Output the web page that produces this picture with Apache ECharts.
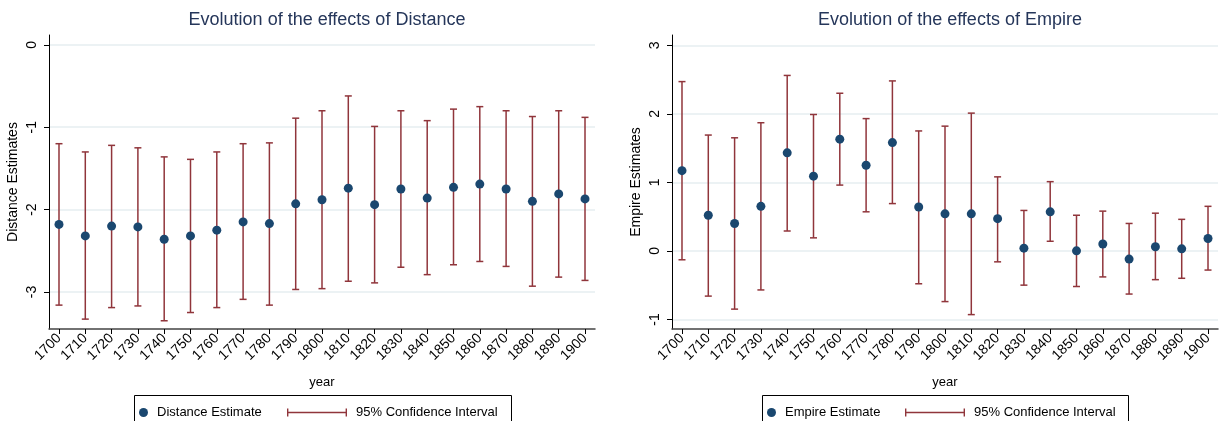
<!DOCTYPE html>
<html>
<head>
<meta charset="utf-8">
<script src="https://cdn.jsdelivr.net/npm/echarts@6/dist/echarts.min.js"></script>
<style>
html,body{margin:0;padding:0;background:#fff;}
#chart{width:1225px;height:421px;}
</style>
</head>
<body>
<div id="chart"></div>
<script>
var years = [1700,1710,1720,1730,1740,1750,1760,1770,1780,1790,1800,1810,1820,1830,1840,1850,1860,1870,1880,1890,1900];
var distTicks = [0,-1,-2,-3];
var empTicks = [3,2,1,0,-1];

var distEst = [-2.18,-2.32,-2.20,-2.21,-2.36,-2.32,-2.25,-2.15,-2.17,-1.93,-1.88,-1.74,-1.94,-1.75,-1.86,-1.73,-1.69,-1.75,-1.90,-1.81,-1.87];
var distLo  = [-3.16,-3.33,-3.19,-3.17,-3.35,-3.25,-3.19,-3.09,-3.16,-2.97,-2.96,-2.87,-2.89,-2.70,-2.79,-2.67,-2.63,-2.69,-2.93,-2.82,-2.86];
var distHi  = [-1.20,-1.30,-1.22,-1.25,-1.36,-1.39,-1.30,-1.20,-1.19,-0.89,-0.80,-0.62,-0.99,-0.80,-0.92,-0.78,-0.75,-0.80,-0.87,-0.80,-0.88];

var empEst = [1.17,0.52,0.40,0.65,1.43,1.09,1.63,1.25,1.58,0.64,0.54,0.54,0.47,0.04,0.57,0.00,0.10,-0.12,0.06,0.03,0.18];
var empLo  = [-0.13,-0.66,-0.85,-0.57,0.29,0.19,0.96,0.57,0.69,-0.48,-0.74,-0.93,-0.16,-0.50,0.14,-0.52,-0.38,-0.63,-0.42,-0.40,-0.28];
var empHi  = [2.47,1.69,1.65,1.87,2.56,1.99,2.30,1.93,2.48,1.75,1.82,2.01,1.08,0.59,1.01,0.52,0.58,0.40,0.55,0.46,0.65];

var FONT = '"Liberation Sans", Arial, sans-serif';
var DOT = '#1a476f';
var BAR = '#90353b';
var GRIDC = '#e6eef0';

function pts(est){ return years.map(function(y,i){ return [y, est[i]]; }); }
function ci(lo,hi){ return years.map(function(y,i){ return [y, lo[i], hi[i]]; }); }

function renderErr(params, api){
  var x = api.value(0);
  var p1 = api.coord([x, api.value(1)]);
  var p2 = api.coord([x, api.value(2)]);
  var hw = 3.5;
  var st = {stroke: BAR, lineWidth: 1.5};
  return {type:'group', children:[
    {type:'line', shape:{x1:p1[0],y1:p1[1],x2:p2[0],y2:p2[1]}, style:st},
    {type:'line', shape:{x1:p1[0]-hw,y1:p1[1],x2:p1[0]+hw,y2:p1[1]}, style:st},
    {type:'line', shape:{x1:p2[0]-hw,y1:p2[1],x2:p2[0]+hw,y2:p2[1]}, style:st}
  ]};
}

function xAxis(idx){
  return {
    type:'value', gridIndex:idx, min:1696.2, max:1903.8,
    name:'year', nameLocation:'middle', nameGap:47,
    nameTextStyle:{fontFamily:FONT, fontSize:13, color:'#000'},
    axisLine:{show:true, onZero:false, lineStyle:{color:'#444', width:1.5}},
    axisTick:{show:true, length:5, customValues: years, lineStyle:{color:'#000'}},
    axisLabel:{customValues: years, rotate:45, margin:7, fontFamily:FONT, fontSize:14, color:'#000',
      formatter:function(v){ return String(Math.round(v)); }},
    splitLine:{show:false}
  };
}
function yAxis(idx, min, max, ticks, name){
  return {
    type:'value', gridIndex:idx, min:min, max:max,
    name:name, nameLocation:'middle', nameGap:29, nameRotate:90,
    nameTextStyle:{fontFamily:FONT, fontSize:14, color:'#000'},
    axisLine:{show:true, onZero:false, lineStyle:{color:'#000', width:1}},
    axisTick:{show:true, length:5, customValues: ticks, lineStyle:{color:'#000'}},
    axisLabel:{customValues: ticks, rotate:90, margin:10, fontFamily:FONT, fontSize:14, color:'#000',
      formatter:function(v){ return String(Math.round(v)); }},
    splitLine:{show:true, lineStyle:{color:GRIDC, width:1.5}}
  };
}

var ciIcon = 'path://M0,0H1.4V8H0Z M0,3.3H60V4.7H0Z M58.6,0H60V8H58.6Z';
var LT = {fontFamily:FONT, fontSize:13, color:'#000'};

var option = {
  animation:false,
  backgroundColor:'#fff',
  title:[
    {text:'Evolution of the effects of Distance', left:322, textAlign:'center', top:6,
     textStyle:{fontFamily:FONT, fontSize:18, fontWeight:'normal', color:'#25365a'}},
    {text:'Evolution of the effects of Empire', left:945, textAlign:'center', top:6,
     textStyle:{fontFamily:FONT, fontSize:18, fontWeight:'normal', color:'#25365a'}}
  ],
  grid:[
    {left:49, top:35, width:546, height:294},
    {left:672, top:35, width:546, height:294}
  ],
  xAxis:[xAxis(0), xAxis(1)],
  yAxis:[yAxis(0,-3.45,0.12,distTicks,'Distance Estimates'), yAxis(1,-1.14,3.15,empTicks,'Empire Estimates')],
  legend:[
    {left:139, top:406, itemWidth:9, itemHeight:9, selectedMode:false, padding:0,
     data:[{name:'Distance Estimate', icon:'circle'}], textStyle:Object.assign({padding:[0,0,0,4]}, LT)},
    {left:287, top:406, itemWidth:60, itemHeight:8, selectedMode:false, padding:0,
     data:[{name:'95% Confidence Interval', icon:ciIcon}], textStyle:Object.assign({padding:[0,0,0,4]}, LT)},
    {left:767, top:406, itemWidth:9, itemHeight:9, selectedMode:false, padding:0,
     data:[{name:'Empire Estimate', icon:'circle'}], textStyle:Object.assign({padding:[0,0,0,4]}, LT)},
    {left:905, top:406, itemWidth:60, itemHeight:8, selectedMode:false, padding:0,
     data:[{name:'95% Confidence Interval', icon:ciIcon}], textStyle:Object.assign({padding:[0,0,0,4]}, LT)}
  ],
  graphic:[
    {type:'rect', shape:{x:134.5, y:395.5, width:377, height:40}, style:{fill:'none', stroke:'#000', lineWidth:1}, silent:true},
    {type:'rect', shape:{x:762.5, y:395.5, width:366, height:40}, style:{fill:'none', stroke:'#000', lineWidth:1}, silent:true}
  ],
  series:[
    {type:'custom', name:'95% Confidence Interval', xAxisIndex:0, yAxisIndex:0, renderItem:renderErr,
     itemStyle:{color:BAR}, encode:{x:0, y:[1,2]}, data:ci(distLo, distHi), z:2},
    {type:'scatter', name:'Distance Estimate', xAxisIndex:0, yAxisIndex:0, symbolSize:9,
     itemStyle:{color:DOT, opacity:1}, data:pts(distEst), z:3},
    {type:'custom', name:'95% Confidence Interval', xAxisIndex:1, yAxisIndex:1, renderItem:renderErr,
     itemStyle:{color:BAR}, encode:{x:0, y:[1,2]}, data:ci(empLo, empHi), z:2},
    {type:'scatter', name:'Empire Estimate', xAxisIndex:1, yAxisIndex:1, symbolSize:9,
     itemStyle:{color:DOT, opacity:1}, data:pts(empEst), z:3}
  ]
};
var chart = echarts.init(document.getElementById('chart'), null, {renderer:'canvas'});
chart.setOption(option);
</script>
</body>
</html>
